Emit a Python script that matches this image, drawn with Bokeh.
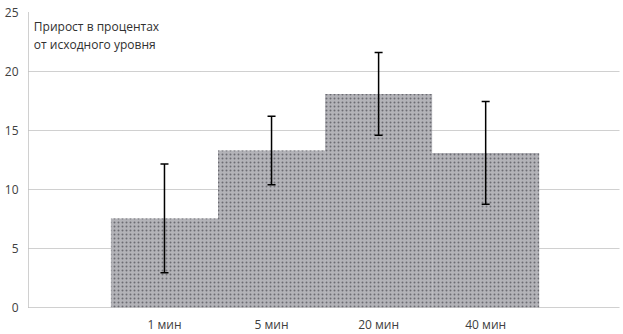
from bokeh.plotting import figure
from bokeh.models import ColumnDataSource, Whisker, LabelSet, Label, FixedTicker, Range1d
from bokeh.core.properties import value
from bokeh.embed import file_html
from bokeh.resources import INLINE

categories = ["1 мин", "5 мин", "20 мин", "40 мин"]
values = [7.55, 13.3, 18.1, 13.1]
errors = [4.6, 2.9, 3.5, 4.35]
yticks = [0, 5, 10, 15, 20, 25]
annotation_lines = ["Прирост в процентах", "от исходного уровня"]

xs = [i + 1 for i in range(len(categories))]
src = ColumnDataSource(dict(
    x=xs, top=values,
    upper=[v + e for v, e in zip(values, errors)],
    lower=[v - e for v, e in zip(values, errors)],
    label=categories,
    ly=[-2.2] * len(categories),
))

FONT = "Open Sans"
p = figure(width=623, height=334, output_backend="svg", toolbar_location=None,
           x_range=Range1d(-0.27, 5.25), y_range=Range1d(-2.29, 25),
           x_axis_location=None, min_border_left=28, min_border_right=4,
           min_border_top=12, min_border_bottom=0)
p.outline_line_color = None
p.xgrid.visible = False
p.ygrid.ticker = FixedTicker(ticks=yticks)
p.ygrid.grid_line_color = "#a0a0a0"
p.ygrid.grid_line_dash = "1 1"

ax = p.yaxis[0]
ax.ticker = FixedTicker(ticks=yticks)
ax.bounds = (0, 25)
ax.axis_line_color = "#a0a0a0"
ax.axis_line_dash = "1 1"
ax.major_tick_line_color = None
ax.minor_tick_line_color = None
ax.major_tick_out = 0
ax.major_tick_in = 0
ax.minor_tick_out = 0
ax.minor_tick_in = 0
ax.major_label_standoff = 10
ax.major_label_text_font = FONT
ax.major_label_text_font_size = "12px"
ax.major_label_text_color = "#404040"

p.vbar(x="x", top="top", bottom=0, width=1.0, source=src,
       fill_color="#b3b3b8", line_color=None,
       hatch_pattern=".", hatch_color="#6c6c72", hatch_scale=4, hatch_weight=1)

w = Whisker(source=src, base="x", upper="upper", lower="lower",
            line_color="black", line_width=1.5, level="overlay")
w.upper_head.size = 8
w.lower_head.size = 8
w.upper_head.line_width = 1.5
w.lower_head.line_width = 1.5
p.add_layout(w)

p.add_layout(LabelSet(x="x", y="ly", text="label", source=src,
                      text_align="center", text_baseline="bottom",
                      text_font=value(FONT), text_font_size=value("12px"),
                      text_color=value("#404040")))

for i, t in enumerate(annotation_lines):
    p.add_layout(Label(x=-0.22, y=24.55 - i * 1.55, text=t, text_baseline="top",
                       text_font=FONT, text_font_size="12px", text_color="#303030"))

open("out.html", "w").write(file_html(p, INLINE))
